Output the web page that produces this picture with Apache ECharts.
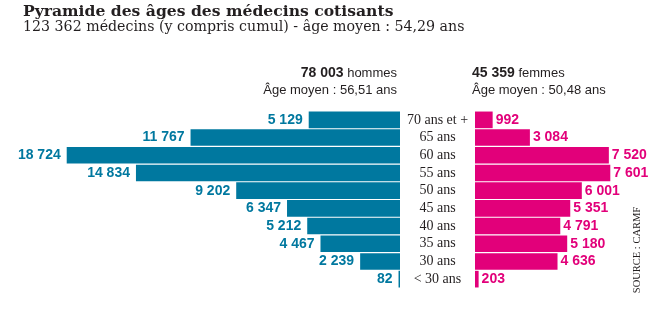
<!DOCTYPE html>
<html>
<head>
<meta charset="utf-8">
<script src="https://cdn.jsdelivr.net/npm/echarts@6/dist/echarts.min.js"></script>
<style>html,body{margin:0;padding:0;background:#fff}#c{width:658px;height:326px}</style>
</head>
<body>
<div id="c"></div>
<script>
var categories = ['70 ans et +','65 ans','60 ans','55 ans','50 ans','45 ans','40 ans','35 ans','30 ans','< 30 ans'];
var hommes = [5129,11767,18724,14834,9202,6347,5212,4467,2239,82];
var femmes = [992,3084,7520,7601,6001,5351,4791,5180,4636,203];
var titleText = 'Pyramide des âges des médecins cotisants';
var subtitleText = '123 362 médecins (y compris cumul) - âge moyen : 54,29 ans';
var menTotal = '78 003', menWord = ' hommes', menAge = 'Âge moyen : 56,51 ans';
var womenTotal = '45 359', womenWord = ' femmes', womenAge = 'Âge moyen : 50,48 ans';
var sourceText = 'SOURCE : CARMF';

var BLUE = '#00789f', PINK = '#e2007a';
function fmt(v){ return String(v).replace(/\B(?=(\d{3})+(?!\d))/g, ' '); }

var chart = echarts.init(document.getElementById('c'), null, {renderer:'canvas'});
var sans = 'Liberation Sans, Arial, sans-serif';
var serif = 'Liberation Serif, Times New Roman, serif';
var slab = 'DejaVu Serif, serif';
chart.setOption({
  animation: false,
  backgroundColor: '#fff',
  grid: [
    {left: 44, width: 356, top: 111, height: 177},
    {left: 475, width: 178, top: 111, height: 177}
  ],
  xAxis: [
    {type:'value', gridIndex:0, inverse:true, min:0, max:20000, show:false},
    {type:'value', gridIndex:1, min:0, max:10000, show:false}
  ],
  yAxis: [
    {type:'category', gridIndex:0, data:categories, inverse:true, show:false},
    {type:'category', gridIndex:1, data:categories, inverse:true,
     axisLine:{show:false}, axisTick:{show:false},
     axisLabel:{interval:0, margin:37.5, align:'center', fontFamily:serif, fontSize:14, color:'#231f20'}}
  ],
  series: [
    {type:'bar', name:'hommes', xAxisIndex:0, yAxisIndex:0, data:hommes, barCategoryGap:'6%',
     itemStyle:{color:BLUE},
     label:{show:true, position:'left', distance:6, color:BLUE, fontFamily:sans, fontWeight:'bold', fontSize:14, formatter:function(p){return fmt(p.value);}}},
    {type:'bar', name:'femmes', xAxisIndex:1, yAxisIndex:1, data:femmes, barCategoryGap:'6%',
     itemStyle:{color:PINK},
     label:{show:true, position:'right', distance:3, color:PINK, fontFamily:sans, fontWeight:'bold', fontSize:14, formatter:function(p){return fmt(p.value);}}}
  ],
  graphic: [
    {type:'text', x:23, y:12, style:{text:titleText, verticalAlign:'middle', font:'bold 15.6px '+slab, fill:'#231f20'}},
    {type:'text', x:23, y:27, style:{text:subtitleText, verticalAlign:'middle', font:'14.2px '+slab, fill:'#231f20'}},
    {type:'text', x:397, y:73, style:{text:'{b|'+menTotal+'}{n|'+menWord+'}', align:'right', verticalAlign:'middle',
      rich:{b:{font:'bold 14px '+sans, fill:'#231f20'}, n:{font:'13px '+sans, fill:'#231f20'}}}},
    {type:'text', x:397, y:90, style:{text:menAge, align:'right', verticalAlign:'middle', font:'13px '+sans, fill:'#231f20'}},
    {type:'text', x:472, y:73, style:{text:'{b|'+womenTotal+'}{n|'+womenWord+'}', align:'left', verticalAlign:'middle',
      rich:{b:{font:'bold 14px '+sans, fill:'#231f20'}, n:{font:'13px '+sans, fill:'#231f20'}}}},
    {type:'text', x:472, y:90, style:{text:womenAge, align:'left', verticalAlign:'middle', font:'13px '+sans, fill:'#231f20'}},
    {type:'text', x:637, y:250, rotation:Math.PI/2, style:{text:sourceText, align:'center', verticalAlign:'middle', font:'10.5px '+serif, fill:'#231f20'}}
  ]
});
</script>
</body>
</html>
